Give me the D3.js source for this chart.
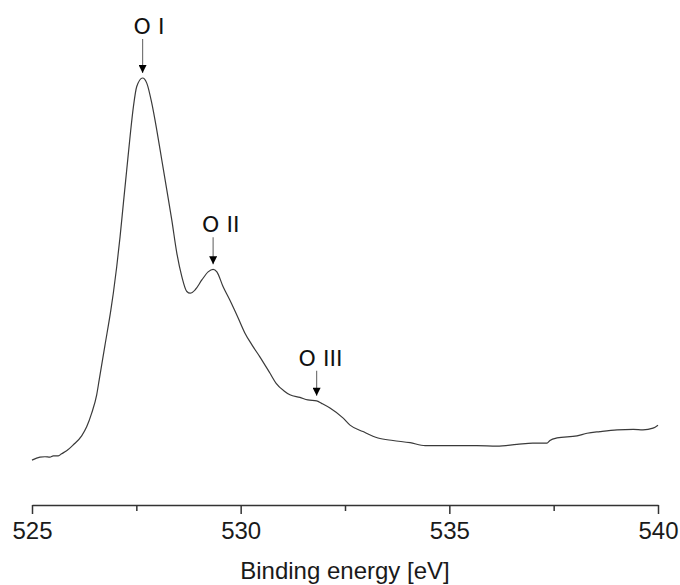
<!DOCTYPE html>
<html>
<head>
<meta charset="utf-8">
<script src="https://cdn.jsdelivr.net/npm/d3@7"></script>
<style>
  html, body { margin: 0; padding: 0; background: #fff; }
  svg { display: block; }
</style>
</head>
<body>
<div id="chart"></div>
<script>
// ---- data ----
const energy = [525.00, 525.19, 525.31, 525.43, 525.51, 525.63, 525.71, 525.83, 525.99, 526.19,
  526.31, 526.43, 526.55, 526.61, 526.75, 526.89, 526.95, 527.03, 527.11, 527.19,
  527.27, 527.35, 527.43, 527.51, 527.65, 527.75, 527.87, 527.99, 528.11, 528.23,
  528.35, 528.47, 528.59, 528.71, 528.79, 528.91, 529.07, 529.22, 529.34, 529.43,
  529.58, 529.74, 529.94, 530.10, 530.27, 530.46, 530.70, 530.85, 531.04, 531.18, 531.42,
  531.61, 531.82, 531.94, 532.14, 532.45, 532.62, 532.93, 533.29, 533.65, 534.06,
  534.42, 534.85, 535.26, 535.66, 536.14, 536.62, 537.00, 537.34, 537.41, 537.58,
  538.06, 538.30, 538.61, 539.02, 539.41, 539.64, 539.88, 540.00];
const intensity = [10.5, 11.2, 11.3, 11.2, 11.5, 11.5, 12.0, 12.7, 14.1, 16.2,
  18.3, 21.5, 25.8, 29.3, 37.5, 45.7, 49.7, 55.8, 62.8, 70.7,
  78.5, 86.3, 93.3, 98.0, 100.0, 98.8, 94.1, 87.8, 80.8, 73.8,
  66.7, 59.0, 53.5, 50.0, 49.6, 50.4, 52.7, 54.6, 55.2, 54.6,
  51.1, 48.0, 43.8, 40.3, 37.5, 34.7, 30.9, 28.5, 26.7, 25.8, 25.2,
  24.6, 24.4, 23.8, 22.7, 20.4, 18.7, 17.2, 15.7, 15.1, 14.6,
  13.9, 13.9, 13.9, 13.9, 13.8, 14.2, 14.5, 14.5, 15.1, 15.7,
  16.2, 16.8, 17.2, 17.6, 17.7, 17.6, 18.0, 18.7];
const majorTicks = [525, 530, 535, 540];
const minorTicks = [527.5, 532.5, 537.5];
const peakLabels = ["O I", "O II", "O III"];
const peakEnergy = [527.65, 529.34, 531.82];
const xTitle = "Binding energy [eV]";

// ---- layout ----
const W = 680, H = 585;
const arrowLen = [34, 27, 25];
const labelDx = [-9, -11, -18];

const svg = d3.select("#chart").append("svg")
  .attr("width", W).attr("height", H);

const x = d3.scaleLinear().domain([525, 540]).range([32, 658]);
const y = d3.scaleLinear().domain([0, 100]).range([505, 78]);

const pts = energy.map((e, i) => [e, intensity[i]]);

svg.append("path")
  .datum(pts)
  .attr("fill", "none")
  .attr("stroke", "#3a3a3a")
  .attr("stroke-width", 1.2)
  .attr("d", d3.line().x(d => x(d[0])).y(d => y(d[1])).curve(d3.curveMonotoneX));

// axis
const axisG = svg.append("g").attr("transform", "translate(0,505)");
axisG.call(d3.axisBottom(x).tickValues(majorTicks).tickSize(9).tickSizeOuter(0)
  .tickPadding(8).tickFormat(d3.format("d")));
axisG.select(".domain").attr("stroke", "#333").attr("stroke-width", 1.5);
axisG.selectAll(".tick line").attr("stroke", "#333").attr("stroke-width", 1.5);
axisG.selectAll(".tick text")
  .attr("fill", "#1a1a1a")
  .style("font-family", "'Liberation Sans', Arial, sans-serif")
  .style("font-size", "24px");

const minorG = svg.append("g").attr("transform", "translate(0,505)");
minorG.call(d3.axisBottom(x).tickValues(minorTicks).tickSize(6).tickFormat(""));
minorG.select(".domain").remove();
minorG.selectAll(".tick line").attr("stroke", "#333").attr("stroke-width", 1.5);

svg.append("text")
  .attr("x", (x(525) + x(540)) / 2)
  .attr("y", 579)
  .attr("text-anchor", "middle")
  .attr("fill", "#1a1a1a")
  .style("font-family", "'Liberation Sans', Arial, sans-serif")
  .style("font-size", "24px")
  .text(xTitle);

// annotations
const defs = svg.append("defs");
defs.append("marker")
  .attr("id", "ah").attr("viewBox", "0 0 10 10")
  .attr("refX", 10).attr("refY", 5)
  .attr("markerUnits", "userSpaceOnUse")
  .attr("markerWidth", 11).attr("markerHeight", 8)
  .attr("orient", "auto")
  .append("path").attr("d", "M0,0 L10,5 L0,10 Z").attr("fill", "#000");

function intensityAt(e) {
  const i = energy.findIndex(v => v >= e);
  if (i <= 0) return intensity[0];
  const t = (e - energy[i - 1]) / (energy[i] - energy[i - 1]);
  return intensity[i - 1] + t * (intensity[i] - intensity[i - 1]);
}

peakLabels.forEach((lab, i) => {
  const px = x(peakEnergy[i]);
  const tip = y(intensityAt(peakEnergy[i])) - 5;
  const top = tip - arrowLen[i];
  svg.append("line")
    .attr("x1", px).attr("x2", px)
    .attr("y1", top).attr("y2", tip)
    .attr("stroke", "#777").attr("stroke-width", 1.2)
    .attr("marker-end", "url(#ah)");
  svg.append("text")
    .attr("x", px + labelDx[i])
    .attr("y", top - 5)
    .attr("fill", "#111")
    .style("font-family", "'DejaVu Sans', sans-serif")
    .style("font-size", "22px")
    .text(lab);
});
</script>
</body>
</html>
